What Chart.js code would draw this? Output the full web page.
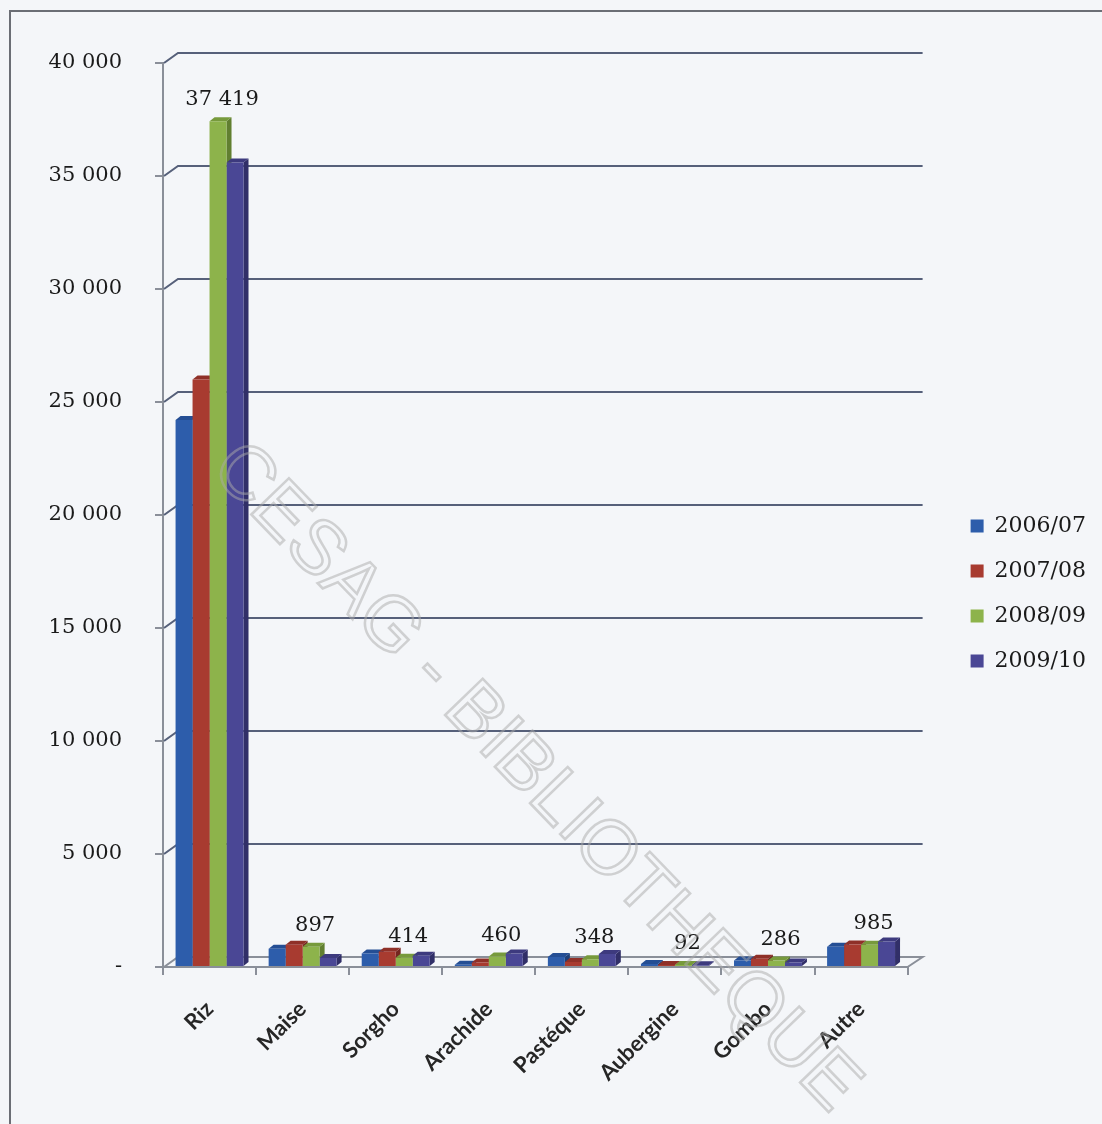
<!DOCTYPE html>
<html>
<head>
<meta charset="utf-8">
<script src="https://cdn.jsdelivr.net/npm/chart.js@4.4.1/dist/chart.umd.min.js"></script>
<style>
  html, body { margin: 0; padding: 0; background: #f4f6f9; }
  #wrap { width: 1102px; height: 1124px; position: relative; }
</style>
</head>
<body>
<div id="wrap"><canvas id="cropChart"></canvas></div>
<script>
// cultures et campagnes
const cultures = ['Riz', 'Maise', 'Sorgho', 'Arachide', 'Pastéque', 'Aubergine', 'Gombo', 'Autre'];
const campagnes = ['2006/07', '2007/08', '2008/09', '2009/10'];

// valeurs
const val0607 = [24200, 810, 600, 100, 440, 130, 290, 900];
const val0708 = [26000, 990, 680, 200, 220, 90, 370, 1000];
const val0809 = [37419, 897, 414, 460, 348, 92, 286, 985];
const val0910 = [35600, 400, 500, 600, 570, 80, 200, 1130];

const yTicks = [0, 5000, 10000, 15000, 20000, 25000, 30000, 35000, 40000];

const barColors = ['#2d5dab', '#a83b30', '#8db34b', '#4a4795'];
const topColors = ['#244e94', '#8f3028', '#779a3c', '#3d3a7e'];
const sideColors = ['#1d3f78', '#742620', '#617f30', '#312f68'];

function fmt(v) {
  if (v === 0) return '-';
  return String(v).replace(/\B(?=(\d{3})+(?!\d))/g, ' ');
}

// mur du fond, sol et faces 3D des barres
const murDuFond = {
  id: 'murDuFond',
  beforeDraw(chart) {
    const ctx = chart.ctx;
    ctx.save();
    ctx.fillStyle = '#f4f6f9';
    ctx.fillRect(0, 0, chart.width, chart.height);
    ctx.strokeStyle = '#6b6e75';
    ctx.lineWidth = 2;
    ctx.strokeRect(10, 11, chart.width + 20, chart.height + 20);
    ctx.restore();
  },
  beforeDatasetsDraw(chart) {
    const {ctx, chartArea, scales} = chart;
    const dx = 15, dy = 10;
    ctx.save();
    ctx.lineWidth = 2;
    yTicks.forEach(v => {
      const py = scales.y.getPixelForValue(v);
      ctx.strokeStyle = v === 0 ? '#8a8f99' : '#56607a';
      ctx.beginPath();
      ctx.moveTo(chartArea.left + 1, py);
      ctx.lineTo(chartArea.left + dx, py - dy);
      ctx.lineTo(chartArea.right + dx, py - dy);
      if (v === 0) ctx.lineTo(chartArea.right, py);
      ctx.stroke();
    });

    const d = 5, h = 4;
    chart.data.datasets.forEach((ds, i) => {
      chart.getDatasetMeta(i).data.forEach(bar => {
        const l = bar.x - bar.width / 2, r = bar.x + bar.width / 2;
        const t = bar.y, b = bar.base;
        ctx.fillStyle = sideColors[i];
        ctx.beginPath();
        ctx.moveTo(r, t); ctx.lineTo(r + d, t - h); ctx.lineTo(r + d, b - h); ctx.lineTo(r, b);
        ctx.closePath(); ctx.fill();
        ctx.fillStyle = topColors[i];
        ctx.beginPath();
        ctx.moveTo(l, t); ctx.lineTo(l + d, t - h); ctx.lineTo(r + d, t - h); ctx.lineTo(r, t);
        ctx.closePath(); ctx.fill();
      });
    });
    ctx.restore();
  },
  afterDatasetsDraw(chart) {
    const ctx = chart.ctx;
    ctx.save();
    ctx.font = '21px "DejaVu Serif"';
    ctx.fillStyle = '#1a1a1a';
    ctx.textAlign = 'center';
    ctx.textBaseline = 'alphabetic';
    chart.getDatasetMeta(2).data.forEach((bar, k) => {
      ctx.fillText(fmt(val0809[k]), bar.x + 4, bar.y - 16);
    });
    ctx.restore();
  },
  afterDraw(chart) {
    // filigrane
    const ctx = chart.ctx;
    ctx.save();
    ctx.translate(535, 778);
    ctx.rotate(46 * Math.PI / 180);
    ctx.font = '76px "Liberation Sans"';
    ctx.textAlign = 'center';
    ctx.textBaseline = 'middle';
    ctx.strokeStyle = 'rgba(170,170,170,0.5)';
    ctx.lineWidth = 2.5;
    ctx.strokeText('CESAG - BIBLIOTHEQUE', 0, 0);
    ctx.restore();
  }
};

const ctx = document.getElementById('cropChart');
ctx.width = 1102;
ctx.height = 1124;

new Chart(ctx, {
  type: 'bar',
  data: {
    labels: cultures,
    datasets: [
      { label: campagnes[0], data: val0607, backgroundColor: barColors[0] },
      { label: campagnes[1], data: val0708, backgroundColor: barColors[1] },
      { label: campagnes[2], data: val0809, backgroundColor: barColors[2] },
      { label: campagnes[3], data: val0910, backgroundColor: barColors[3] }
    ]
  },
  options: {
    responsive: false,
    animation: false,
    layout: { padding: { top: 63, right: 6, bottom: 0, left: 0 } },
    datasets: { bar: { categoryPercentage: 0.73, barPercentage: 1.0, borderWidth: 0 } },
    scales: {
      x: {
        grid: { drawOnChartArea: false, tickLength: 8, color: '#8a8f99', lineWidth: 2 },
        border: { color: '#8a8f99', width: 2 },
        ticks: {
          maxRotation: 45, minRotation: 45, padding: 21, color: '#262626',
          font: { family: 'Lato', weight: 'bold', size: 22 }
        },
        afterFit(s) { s.height = 157; }
      },
      y: {
        min: 0, max: 40000,
        grid: { drawOnChartArea: false, tickLength: 8, color: '#8a8f99', lineWidth: 2 },
        border: { color: '#8a8f99', width: 2 },
        ticks: {
          stepSize: 5000, padding: 33, color: '#1a1a1a',
          font: { family: 'DejaVu Serif', size: 21 },
          callback: v => fmt(v)
        },
        afterFit(s) { s.width = 163; }
      },
      espace: {
        type: 'linear', position: 'right', display: true,
        grid: { display: false, drawTicks: false },
        border: { display: false },
        ticks: { display: false },
        afterFit(s) { s.width = 40; }
      }
    },
    plugins: {
      legend: {
        position: 'right',
        align: 'center',
        maxWidth: 155,
        labels: {
          boxWidth: 13, boxHeight: 13, padding: 23, color: '#1a1a1a',
          font: { family: 'DejaVu Serif', size: 22 }
        }
      },
      tooltip: { enabled: false }
    }
  },
  plugins: [murDuFond]
});
</script>
</body>
</html>
